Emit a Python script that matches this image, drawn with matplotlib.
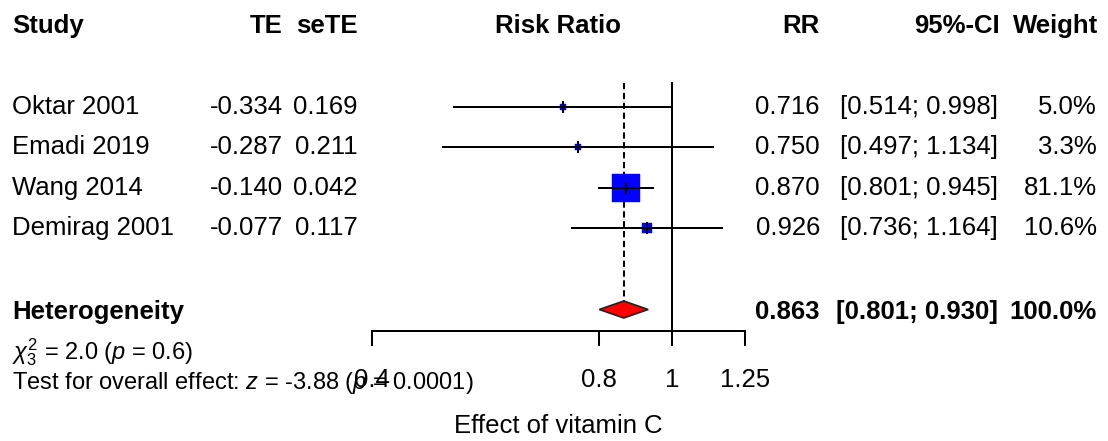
import matplotlib
matplotlib.use("Agg")
import matplotlib.pyplot as plt
import numpy as np
from matplotlib.transforms import blended_transform_factory
from matplotlib.ticker import FixedLocator, FixedFormatter, NullLocator

plt.rcParams['font.family'] = ['Liberation Sans', 'DejaVu Sans']
plt.rcParams['mathtext.fontset'] = 'custom'
plt.rcParams['mathtext.rm'] = 'Liberation Sans'
plt.rcParams['mathtext.it'] = 'Liberation Sans:italic'
plt.rcParams['mathtext.bf'] = 'Liberation Sans:bold'

# ---- data ----
studies = ["Oktar 2001", "Emadi 2019", "Wang 2014", "Demirag 2001"]
te = ["-0.334", "-0.287", "-0.140", "-0.077"]
sete = ["0.169", "0.211", "0.042", "0.117"]
rr = [0.716, 0.750, 0.870, 0.926]
ci_lo = [0.514, 0.497, 0.801, 0.736]
ci_hi = [0.998, 1.134, 0.945, 1.164]
weights = [5.0, 3.3, 81.1, 10.6]
pooled_rr = 0.863
pooled_lo = 0.801
pooled_hi = 0.930
xticks = [0.4, 0.8, 1, 1.25]
xtick_labels = ["0.4", "0.8", "1", "1.25"]

W, H = 1108, 441
fig = plt.figure(figsize=(W / 100, H / 100), dpi=100)

row_h = 40.5
row0 = 107
y_top = -row0 / row_h
y_bot = (331 - row0) / row_h
LW = 1.45

ax = fig.add_axes([372 / W, 1 - 331 / H, (745 - 372) / W, 331 / H])
ax.set_xscale('log')
ax.set_xlim(0.4, 1.25)
ax.set_ylim(y_bot, y_top)
for s in ['top', 'left', 'right']:
    ax.spines[s].set_visible(False)
ax.spines['bottom'].set_linewidth(LW)
ax.yaxis.set_visible(False)
ax.xaxis.set_major_locator(FixedLocator(xticks))
ax.xaxis.set_major_formatter(FixedFormatter(xtick_labels))
ax.xaxis.set_minor_locator(NullLocator())
ax.tick_params(axis='x', direction='out', length=10.8, width=LW,
               labelsize=18.5, pad=16)
ax.patch.set_visible(False)

fs = 18.5
ys = np.arange(len(studies))
y_sum = 5

# reference lines
ax.plot([1, 1], [-24 / row_h, y_bot], color='black', lw=LW, clip_on=False, zorder=1)
dh = 8.5 / row_h
ax.plot([pooled_rr, pooled_rr], [-24 / row_h, y_sum - dh], color='black', lw=LW,
        dashes=(3.1, 1.8), clip_on=False, zorder=1)

# squares
for i in range(len(studies)):
    side_px = 3.0 * np.sqrt(weights[i])
    ax.plot(rr[i], ys[i], marker='s', markersize=side_px * 0.72, color='#0000FF',
            mec='#0000FF', mew=0.3, zorder=2, clip_on=False)
    ax.plot([ci_lo[i], ci_hi[i]], [ys[i], ys[i]], color='black', lw=LW, zorder=3,
            clip_on=False)
    ax.plot(rr[i], ys[i], marker='|', markersize=12 * 0.72, color='black', mew=LW,
            zorder=4, clip_on=False)

# diamond
ax.fill([pooled_lo, pooled_rr, pooled_hi, pooled_rr],
        [y_sum, y_sum - dh, y_sum, y_sum + dh],
        facecolor='#FF0000', edgecolor='#222222', lw=1.2, zorder=3, clip_on=False)

tr = blended_transform_factory(fig.transFigure, ax.transData)

def fx(px):
    return px / W

# headers
hy = -2
ax.text(fx(12), hy, "Study", transform=tr, ha='left', va='center', fontsize=fs, fontweight='bold')
ax.text(fx(283), hy, "TE", transform=tr, ha='right', va='center', fontsize=fs, fontweight='bold')
ax.text(fx(358), hy, "seTE", transform=tr, ha='right', va='center', fontsize=fs, fontweight='bold')
ax.text(fx(558), hy, "Risk Ratio", transform=tr, ha='center', va='center', fontsize=fs, fontweight='bold')
ax.text(fx(820), hy, "RR", transform=tr, ha='right', va='center', fontsize=fs, fontweight='bold')
ax.text(fx(1000), hy, "95%-CI", transform=tr, ha='right', va='center', fontsize=fs, fontweight='bold')
ax.text(fx(1098), hy, "Weight", transform=tr, ha='right', va='center', fontsize=fs, fontweight='bold')

for i in range(len(studies)):
    y = ys[i]
    ax.text(fx(12), y, studies[i], transform=tr, ha='left', va='center', fontsize=fs)
    ax.text(fx(283), y, te[i], transform=tr, ha='right', va='center', fontsize=fs)
    ax.text(fx(358), y, sete[i], transform=tr, ha='right', va='center', fontsize=fs)
    ax.text(fx(820), y, f"{rr[i]:.3f}", transform=tr, ha='right', va='center', fontsize=fs)
    ax.text(fx(998), y, f"[{ci_lo[i]:.3f}; {ci_hi[i]:.3f}]", transform=tr, ha='right',
            va='center', fontsize=fs)
    ax.text(fx(1097), y, f"{weights[i]:.1f}%", transform=tr, ha='right', va='center', fontsize=fs)

ax.text(fx(12), y_sum + 0.05, "Heterogeneity", transform=tr, ha='left', va='center', fontsize=fs,
        fontweight='bold')
ax.text(fx(820), y_sum + 0.05, f"{pooled_rr:.3f}", transform=tr, ha='right', va='center',
        fontsize=fs, fontweight='bold')
ax.text(fx(998), y_sum + 0.05, f"[{pooled_lo:.3f}; {pooled_hi:.3f}]", transform=tr, ha='right',
        va='center', fontsize=fs, fontweight='bold')
ax.text(fx(1097), y_sum + 0.05, f"{sum(weights):.1f}%", transform=tr, ha='right', va='center',
        fontsize=fs, fontweight='bold')

fs2 = 17
fig.text(fx(12), 1 - 352 / H, r"$\chi^2_3$ = 2.0 ($p$ = 0.6)", ha='left', va='center', fontsize=fs2)
fig.text(fx(12), 1 - 383 / H, r"Test for overall effect: $z$ = -3.88 ($p$ = 0.0001)",
         ha='left', va='center', fontsize=fs2)
fig.text(fx(558), 1 - 426 / H, "Effect of vitamin C", ha='center', va='center', fontsize=fs)

fig.savefig("out.png", dpi=100)
